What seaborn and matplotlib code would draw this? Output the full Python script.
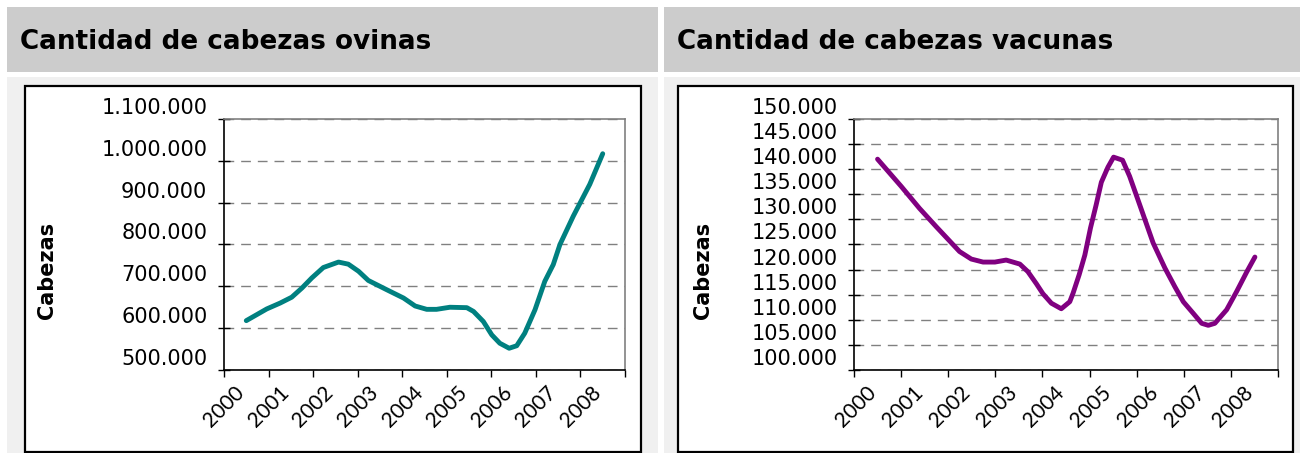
import numpy as np
import pandas as pd
import seaborn as sns
from matplotlib import pyplot as plt
from matplotlib.patches import Rectangle
from matplotlib.transforms import ScaledTranslation
from matplotlib.ticker import FuncFormatter

# datos (miles de cabezas)
anios = [2000, 2001, 2002, 2003, 2004, 2005, 2006, 2007, 2008]

ovinos_anio = [2000.00, 2000.46, 2000.76, 2001.02, 2001.25, 2001.47, 2001.73, 2002.07,
               2002.29, 2002.52, 2002.74, 2003.15, 2003.53, 2003.79, 2004.05, 2004.27,
               2004.57, 2004.95, 2005.10, 2005.32, 2005.51, 2005.69, 2005.90, 2006.07,
               2006.25, 2006.48, 2006.70, 2006.89, 2007.04, 2007.34, 2007.71, 2008.00]
ovinos = [618, 646, 660, 674, 696, 720, 745, 758, 753, 736, 714, 692, 672, 653, 645, 645,
          650, 649, 640, 616, 584, 564, 552, 558, 588, 644, 712, 752, 800, 868, 944, 1017]

vacunos_anio = [2000.00, 2000.50, 2000.89, 2001.25, 2001.49, 2001.74, 2001.99, 2002.24,
                2002.49, 2002.73, 2003.02, 2003.19, 2003.37, 2003.51, 2003.69, 2003.90,
                2004.08, 2004.15, 2004.28, 2004.40, 2004.52, 2004.64, 2004.75, 2004.89,
                2005.01, 2005.20, 2005.35, 2005.49, 2005.64, 2005.85, 2006.10, 2006.31,
                2006.49, 2006.70, 2006.88, 2007.02, 2007.16, 2007.41, 2007.62, 2007.84,
                2008.01]
vacunos = [142.0, 136.6, 132.2, 128.5, 126.1, 123.6, 122.1, 121.5, 121.5, 121.9, 121.1,
           119.6, 117.2, 115.2, 113.3, 112.2, 113.6, 115.3, 119.0, 122.9, 128.3, 132.9,
           137.4, 140.4, 142.4, 141.8, 138.6, 134.9, 130.9, 125.3, 120.3, 116.6, 113.6,
           111.3, 109.3, 108.9, 109.3, 112.0, 115.6, 119.6, 122.5]

titulos = ["Cantidad de cabezas ovinas", "Cantidad de cabezas vacunas"]

sns.set_style("white")
plt.rcParams['font.family'] = ['DejaVu Sans']
plt.rcParams['text.color'] = 'black'
plt.rcParams['xtick.color'] = 'black'
plt.rcParams['ytick.color'] = 'black'

W, H = 1300, 453
fig = plt.figure(figsize=(W / 100, H / 100), dpi=100)
fig.patch.set_facecolor('white')


def caja(x0, y0, x1, y1, **kw):
    fig.add_artist(Rectangle((x0 / W, 1 - y1 / H), (x1 - x0) / W, (y1 - y0) / H,
                             transform=fig.transFigure, zorder=-1, **kw))


def ax_px(x0, y0, x1, y1):
    return fig.add_axes([x0 / W, 1 - y1 / H, (x1 - x0) / W, (y1 - y0) / H])


miles = FuncFormatter(lambda v, p: f"{v:,.0f}".replace(",", "."))

paneles = [
    dict(hx=(7, 658), box=(25, 86, 641, 452), ax=(224, 119, 625, 370),
         x=ovinos_anio, y=[v * 1000 for v in ovinos], color='#008080',
         yt=np.arange(500000, 1100001, 100000), lx=47.5),
    dict(hx=(664, 1300), box=(678, 86, 1293, 452), ax=(854, 119, 1278, 370),
         x=vacunos_anio, y=[v * 1000 for v in vacunos], color='#800080',
         yt=np.arange(100000, 150001, 5000), lx=702.5),
]

for titulo, p in zip(titulos, paneles):
    caja(p['hx'][0], 7, p['hx'][1], 72, facecolor='#cccccc', edgecolor='none')
    caja(p['hx'][0], 77, p['hx'][1], 453, facecolor='#f0f0f0', edgecolor='none')
    b = p['box']
    caja(b[0], b[1], b[2], b[3], facecolor='white', edgecolor='black', linewidth=1.6)
    fig.text((p['hx'][0] + 13) / W, 1 - 42 / H, titulo, fontsize=18.9,
             fontweight='bold', ha='left', va='center', color='black')
    fig.text(p['lx'] / W, 1 - 270 / H, "Cabezas", fontsize=15, fontweight='bold',
             rotation=90, ha='center', va='center', color='black')

    ax = ax_px(*p['ax'])
    sns.lineplot(x=p['x'], y=p['y'], ax=ax, color=p['color'], linewidth=3.5,
                 estimator=None, solid_capstyle='round', solid_joinstyle='round')
    ax.set_xlim(1999.5, 2008.5)
    ax.set_ylim(p['yt'][0], p['yt'][-1])

    ax.set_xticks(np.arange(1999.5, 2009, 1))
    ax.set_xticklabels([])
    ax.set_xticks(anios, minor=True)
    ax.set_xticklabels([str(a) for a in anios], minor=True, fontsize=15,
                       family=['Lato', 'DejaVu Sans'], rotation=45, ha='right',
                       va='top', rotation_mode='anchor')
    ax.tick_params(axis='x', which='major', direction='out', length=5, width=1,
                   color='black', bottom=True)
    ax.tick_params(axis='x', which='minor', length=0, pad=9, bottom=True)
    for lab in ax.get_xticklabels(minor=True):
        lab.set_transform(lab.get_transform() + ScaledTranslation(-0.12, 0, fig.dpi_scale_trans))

    ax.set_yticks(p['yt'])
    ax.yaxis.set_major_formatter(miles)
    ax.tick_params(axis='y', direction='inout', length=8, width=1, color='black',
                   labelsize=15, pad=8, left=True)
    for t in ax.yaxis.get_major_ticks():
        t.label1.set_transform(t.label1.get_transform() +
                               ScaledTranslation(0, 0.13, fig.dpi_scale_trans))

    ax.yaxis.grid(True, linestyle=(0, (7, 5)), color='#808080', linewidth=1)
    ax.xaxis.grid(False)
    ax.set_xlabel("")
    ax.set_ylabel("")
    for s in ['left', 'bottom']:
        ax.spines[s].set_color('black')
        ax.spines[s].set_linewidth(1.2)
    for s in ['top', 'right']:
        ax.spines[s].set_color('#808080')
        ax.spines[s].set_linewidth(1.2)
    ax.set_facecolor('white')

fig.savefig('out.png', dpi=100, facecolor='white')
